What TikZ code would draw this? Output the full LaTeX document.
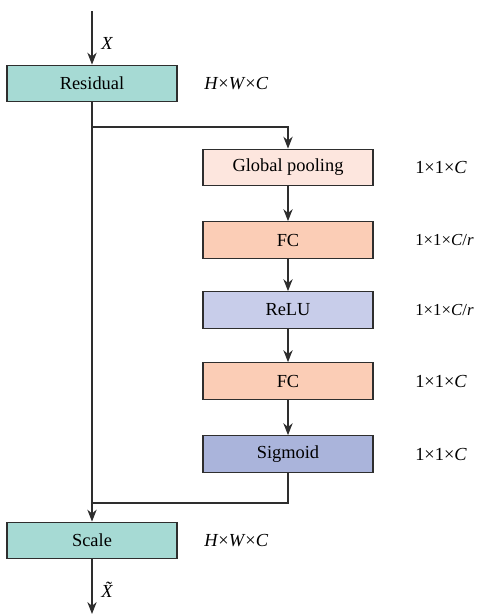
\documentclass[tikz,border=0pt]{standalone}
\usepackage{fontspec}
\setmainfont{Liberation Serif}
\usetikzlibrary{positioning,arrows.meta}
\definecolor{resclr}{HTML}{A6DAD4}
\definecolor{poolclr}{HTML}{FDE6DE}
\definecolor{fcclr}{HTML}{FBCDB6}
\definecolor{reluclr}{HTML}{C8CDEA}
\definecolor{sigclr}{HTML}{AAB4DB}
\definecolor{lineclr}{HTML}{2E2E2E}
\begin{document}
\begin{tikzpicture}[x=0.75pt,y=-0.75pt,>={Stealth[length=9pt,width=7pt]},font=\fontsize{13.8}{16}\selectfont,dim/.style={anchor=west, inner sep=0pt},ln/.style={draw=lineclr, line width=0.8pt}]
\tikzstyle{blk}=[draw=lineclr, line width=0.8pt, minimum width=127.5pt, minimum height=27.5pt, inner sep=0pt]
\useasboundingbox (0,0) rectangle (480,614);
% main path
\node[blk, fill=resclr] (res) at (92,83.5) {Residual};
\node[blk, fill=resclr] (scale) at (92,540.5) {Scale};
% squeeze-excitation branch
\node[blk, fill=poolclr] (gp) at (288,167.5) {Global pooling};
\node[blk, fill=fcclr] (fca) at (288,240) {FC};
\node[blk, fill=reluclr] (relu) at (288,310) {ReLU};
\node[blk, fill=fcclr] (fcb) at (288,381) {FC};
\node[blk, fill=sigclr] (sig) at (288,454) {Sigmoid};
% dimensions
\node[dim] (xin) at (101,43) {\textit{X}};
\node[dim] (xout) at (101,590) {\textit{\~X}};
\node[dim] (dres) at (204,83.5) {\textit{H}×\textit{W}×\textit{C}};
\node[dim] (dscale) at (204,540.5) {\textit{H}×\textit{W}×\textit{C}};
\node[dim] (dgp) at (415,167.5) {1×1×\textit{C}};
\node[dim, font=\fontsize{12.6}{15}\selectfont] (dfca) at (415,240) {1×1×\textit{C}/\textit{r}};
\node[dim, font=\fontsize{12.6}{15}\selectfont] (drelu) at (415,310) {1×1×\textit{C}/\textit{r}};
\node[dim] (dfcb) at (415,381) {1×1×\textit{C}};
\node[dim] (dsig) at (415,454) {1×1×\textit{C}};
\coordinate (in) at (92,11);
\coordinate (out) at (92,614);
\coordinate (split) at (92,127);
\coordinate (splitr) at (288,127);
\coordinate (join) at (92,503);
\coordinate (joinr) at (288,503);
\draw[ln, ->] (in) -- (res);
\draw[ln, ->] (res) -- (scale);
\draw[ln, ->] (split) -- (splitr) -- (gp);
\foreach \i/\j in {gp/fca,fca/relu,relu/fcb,fcb/sig}{\draw[ln, ->] (\i) -- (\j);}
\draw[ln] (sig) -- (joinr) -- (join);
\draw[ln, ->] (scale) -- (out);
\end{tikzpicture}
\end{document}
